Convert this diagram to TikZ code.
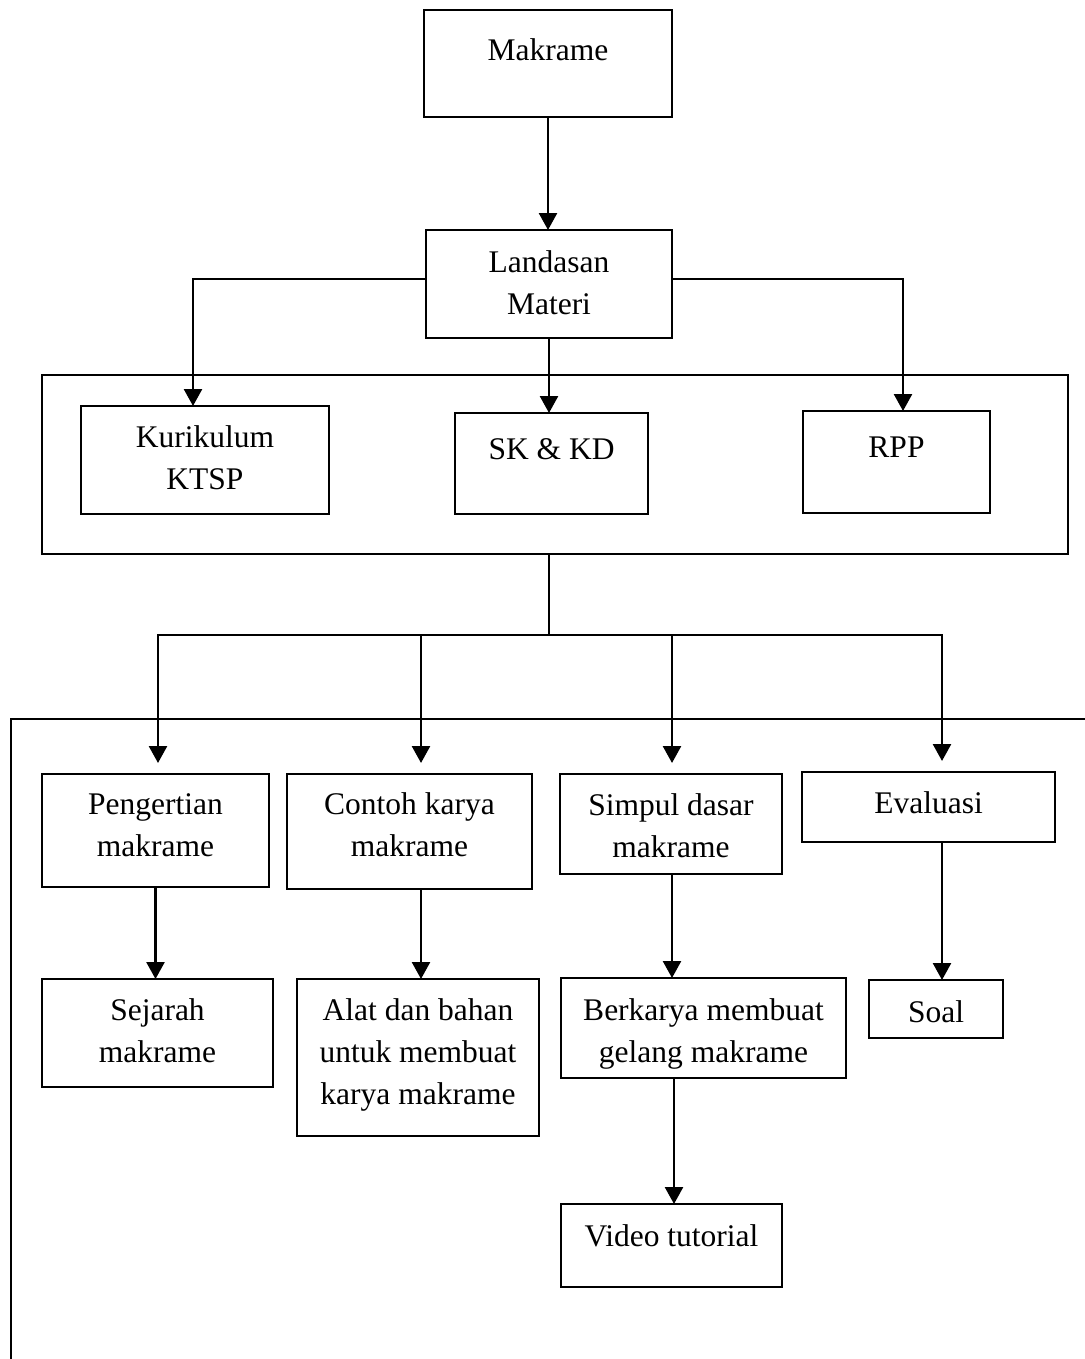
\documentclass[tikz,border=0pt]{standalone}
\usepackage{fontspec}
\setmainfont{Liberation Serif}
\usetikzlibrary{arrows.meta}

\begin{document}
\begin{tikzpicture}[x=1pt, y=-1pt,
  every node/.style={inner sep=0pt, outer sep=0pt},
  box/.style 2 args={draw, line width=2.6pt, rectangle, minimum width=#1, minimum height=#2},
  lbl/.style={font=\fontsize{31.5}{42}\selectfont, align=center},
  txt/.style 2 args={label={[lbl, yshift=#1]center:#2}},
  conn/.style={line width=2.6pt},
  arr/.style={line width=2.6pt, -{Triangle[width=18pt,length=17pt]}},
  frame/.style={line width=2.6pt}]

\useasboundingbox (0,0) rectangle (1084,1359);

% open frame around the lower part of the chart
\draw[frame] (11,1380) |- (1100,719);

% top level
\node[box={248pt}{107pt}, txt={11.5pt}{\strut Makrame}] (mak) at (548,63.5) {};
\node[box={246pt}{108pt}, txt={-1pt}{\strut Landasan\\\strut Materi}] (lan) at (549,284) {};

% group with the curriculum documents
\node[box={1026pt}{179pt}] (grp) at (555,464.5) {};
\node[box={248pt}{108pt}, txt={0pt}{\strut Kurikulum\\\strut KTSP}] (kur) at (205,460) {};
\node[box={193pt}{101pt}, txt={12.5pt}{\strut SK \& KD}] (sk) at (551.5,463.5) {};
\node[box={187pt}{102pt}, txt={13pt}{\strut RPP}] (rpp) at (896.5,462) {};

% material topics
\node[box={227pt}{113pt}, txt={3pt}{\strut Pengertian\\\strut makrame}] (pen) at (155.5,830.5) {};
\node[box={245pt}{115pt}, txt={4pt}{\strut Contoh karya\\\strut makrame}] (con) at (409.5,831.5) {};
\node[box={222pt}{100pt}, txt={-4pt}{\strut Simpul dasar\\\strut makrame}] (sim) at (671,824) {};
\node[box={253pt}{70pt}, txt={2pt}{\strut Evaluasi}] (eva) at (928.5,807) {};

\node[box={231pt}{108pt}, txt={0pt}{\strut Sejarah\\\strut makrame}] (sej) at (157.5,1033) {};
\node[box={242pt}{157pt}, txt={3.5pt}{\strut Alat dan bahan\\\strut untuk membuat\\\strut karya makrame}] (alat) at (418,1057.5) {};
\node[box={285pt}{100pt}, txt={-5pt}{\strut Berkarya membuat\\\strut gelang makrame}] (berk) at (703.5,1028) {};
\node[box={134pt}{58pt}, txt={-5pt}{\strut Soal}] (soal) at (936,1009) {};
\node[box={221pt}{83pt}, txt={7.5pt}{\strut Video tutorial}] (vid) at (671.5,1245.5) {};

% connectors
\draw[arr] (mak.south) -- (mak.south |- lan.north);
\draw[arr] ([yshift=5pt]lan.west) -| ([xshift=-12pt]kur.north);
\draw[arr] ([yshift=5pt]lan.east) -| ([xshift=6.5pt]rpp.north);
\draw[arr] (lan.south) -- (lan.south |- sk.north);

\coordinate (split) at (549,635);
\draw[conn] (split |- grp.south) -- (split);
\draw[arr, shorten >=11pt] (split) -| ([xshift=2.5pt]pen.north);
\draw[arr, shorten >=11pt] (split) -| ([xshift=11.5pt]con.north);
\draw[arr, shorten >=11pt] (split) -| ([xshift=1pt]sim.north);
\draw[arr, shorten >=11pt] (split) -| ([xshift=13.5pt]eva.north);

\draw[arr] (pen.south) -- (pen.south |- sej.north);
\draw[arr] ([xshift=11.5pt]con.south) -- ([xshift=11.5pt]con.south |- alat.north);
\draw[arr] ([xshift=1pt]sim.south) -- ([xshift=1pt]sim.south |- berk.north);
\draw[arr] ([xshift=13.5pt]eva.south) -- ([xshift=13.5pt]eva.south |- soal.north);
\draw[arr] ([xshift=2.5pt]vid.north |- berk.south) -- ([xshift=2.5pt]vid.north);

\end{tikzpicture}
\end{document}
